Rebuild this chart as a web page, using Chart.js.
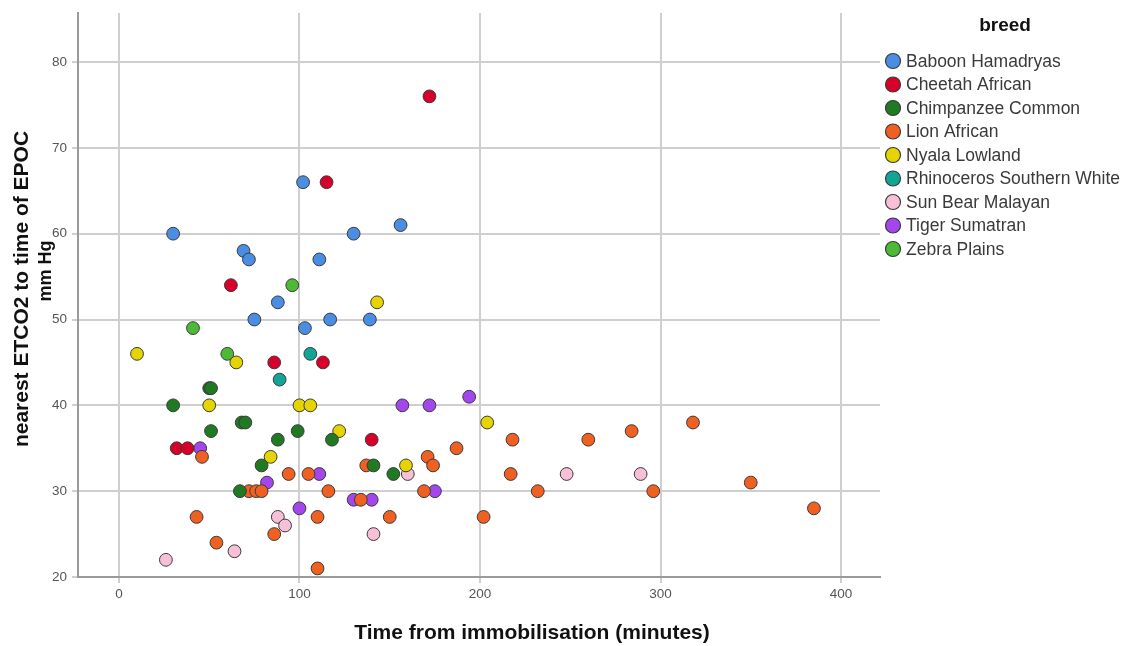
<!DOCTYPE html>
<html>
<head>
<meta charset="utf-8">
<script src="https://cdn.jsdelivr.net/npm/chart.js@4.4.0/dist/chart.umd.min.js"></script>
<style>
  html, body { margin: 0; padding: 0; background: #fff; }
  #wrap { width: 1143px; height: 646px; }
</style>
</head>
<body>
<div id="wrap"><canvas id="diagram" width="1143" height="646"></canvas></div>
<script>
// tick labels
const xTicks = [0, 100, 200, 300, 400];
const yTicks = [20, 30, 40, 50, 60, 70, 80];

// breeds (legend order)
const breeds = ['Baboon Hamadryas', 'Cheetah African', 'Chimpanzee Common', 'Lion African',
    'Nyala Lowland', 'Rhinoceros Southern White', 'Sun Bear Malayan', 'Tiger Sumatran', 'Zebra Plains'];
const breedColors = ['#4a8ee4', '#d8002a', '#1f7a22', '#f06020', '#e6d400', '#12a596', '#f8bfd9', '#a346ee', '#4dba36'];

// time from immobilisation (minutes) / ETCO2 (mm Hg), per breed
const baboonTime = [30, 69, 72, 88, 75, 156, 130, 111, 117, 139, 103, 102];
const baboonEtco2 = [60, 58, 57, 52, 50, 61, 60, 57, 50, 50, 49, 66];

const cheetahTime = [62, 86, 32, 38, 113, 172, 115, 140];
const cheetahEtco2 = [54, 45, 35, 35, 45, 76, 66, 36];

const chimpTime = [50, 51, 30, 68, 70, 51, 88, 79, 67, 99, 118, 141, 152];
const chimpEtco2 = [42, 42, 40, 38, 38, 37, 36, 33, 30, 37, 36, 33, 32];

const lionTime = [46, 72, 76, 79, 43, 86, 54, 187, 171, 174, 137, 94, 105, 116, 169, 134, 110, 150, 110,
    218, 260, 284, 318, 217, 232, 296, 350, 385, 202];
const lionEtco2 = [34, 30, 30, 30, 27, 25, 24, 35, 34, 33, 33, 32, 32, 30, 30, 29, 27, 27, 21,
    36, 36, 37, 38, 32, 30, 30, 31, 28, 27];

const nyalaTime = [10, 65, 50, 84, 143, 100, 106, 122, 159, 204];
const nyalaEtco2 = [46, 45, 40, 34, 52, 40, 40, 37, 33, 38];

const rhinoTime = [89, 106];
const rhinoEtco2 = [43, 46];

const sunBearTime = [88, 64, 26, 160, 92, 141, 248, 289];
const sunBearEtco2 = [27, 23, 22, 32, 26, 25, 32, 32];

const tigerTime = [45, 82, 157, 172, 111, 175, 130, 140, 100, 194];
const tigerEtco2 = [35, 31, 40, 40, 32, 30, 29, 29, 28, 41];

const zebraTime = [41, 60, 96];
const zebraEtco2 = [49, 46, 54];

const seriesTime = [baboonTime, cheetahTime, chimpTime, lionTime, nyalaTime, rhinoTime, sunBearTime, tigerTime, zebraTime];
const seriesEtco2 = [baboonEtco2, cheetahEtco2, chimpEtco2, lionEtco2, nyalaEtco2, rhinoEtco2, sunBearEtco2, tigerEtco2, zebraEtco2];

const xTitle = 'Time from immobilisation (minutes)';
const yTitle = 'nearest ETCO2 to time of EPOC';
const yUnit = 'mm Hg';
const FONT = '"Liberation Sans", Arial, sans-serif';

const datasets = breeds.map((name, i) => ({
    label: name,
    data: seriesTime[i].map((t, j) => ({ x: t, y: seriesEtco2[i][j] })),
    backgroundColor: breedColors[i],
    borderColor: '#3a3a3a',
    borderWidth: 1,
    pointRadius: 6.4,
    pointHoverRadius: 6.4
}));

// legend + axis titles drawn like the SPSS output
const breedLegend = {
    id: 'breedLegend',
    afterDraw(chart) {
        const ctx = chart.ctx;
        ctx.save();
        ctx.fillStyle = '#111';
        ctx.textAlign = 'center';
        ctx.textBaseline = 'middle';
        ctx.font = 'bold 21px ' + FONT;
        ctx.fillText(xTitle, 532, 633);

        ctx.save();
        ctx.translate(22, 289);
        ctx.rotate(-Math.PI / 2);
        ctx.fillText(yTitle, 0, 0);
        ctx.restore();
        ctx.save();
        ctx.translate(46, 271);
        ctx.rotate(-Math.PI / 2);
        ctx.font = 'bold 18px ' + FONT;
        ctx.fillText(yUnit, 0, 0);
        ctx.restore();

        ctx.font = 'bold 19px ' + FONT;
        ctx.fillText('breed', 1005, 26);
        ctx.font = '17.5px ' + FONT;
        ctx.textAlign = 'left';
        chart.data.datasets.forEach((ds, i) => {
            const y = 61 + i * 23.5;
            ctx.beginPath();
            ctx.arc(893, y, 7.5, 0, Math.PI * 2);
            ctx.fillStyle = ds.backgroundColor;
            ctx.fill();
            ctx.lineWidth = 1.2;
            ctx.strokeStyle = '#3a3a3a';
            ctx.stroke();
            ctx.fillStyle = '#3a3a3a';
            ctx.fillText(ds.label, 906, y + 1);
        });
        ctx.restore();
    }
};

const diagram = document.getElementById('diagram').getContext('2d');
const myChart = new Chart(diagram, {
    type: 'scatter',
    data: { datasets: datasets },
    plugins: [breedLegend],
    options: {
        responsive: false,
        animation: false,
        layout: { padding: { top: 12, right: 263, bottom: 0, left: 0 } },
        plugins: {
            legend: { display: false },
            tooltip: { enabled: false }
        },
        scales: {
            x: {
                type: 'linear',
                min: -22.7,
                max: 421.6,
                afterBuildTicks: axis => { axis.ticks = xTicks.map(v => ({ value: v })); },
                afterFit: axis => { axis.height = 69; },
                grid: { color: '#cfcfcf', lineWidth: 2, tickLength: 6 },
                border: { color: '#9a9a9a', width: 2 },
                ticks: { color: '#555', font: { family: FONT, size: 13.5 }, padding: 3 },
                title: { display: false }
            },
            y: {
                type: 'linear',
                min: 20,
                max: 85.7,
                afterBuildTicks: axis => { axis.ticks = yTicks.map(v => ({ value: v })); },
                afterFit: axis => { axis.width = 78; },
                grid: { color: '#cfcfcf', lineWidth: 2, tickLength: 6 },
                border: { color: '#9a9a9a', width: 2 },
                ticks: { color: '#555', font: { family: FONT, size: 13.5 }, padding: 5 },
                title: { display: false }
            }
        }
    }
});
</script>
</body>
</html>
